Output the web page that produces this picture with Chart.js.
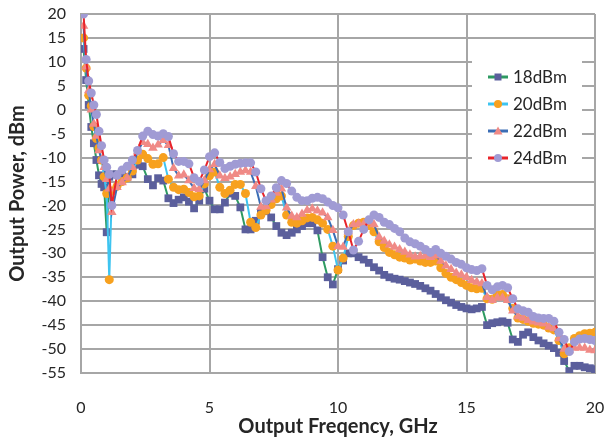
<!DOCTYPE html>
<html>
<head>
<meta charset="utf-8">
<script src="https://cdn.jsdelivr.net/npm/chart.js@4.4.1/dist/chart.umd.min.js"></script>
<style>
    html, body { margin: 0; padding: 0; background: #fff; }
    #chart { display: block; }
</style>
</head>
<body>
<canvas id="chart" width="605" height="441"></canvas>
<script>
// frequency points, GHz
const freq = [0.1, 0.2, 0.3, 0.4, 0.5, 0.6, 0.7, 0.8, 0.9, 1.0, 1.1, 1.2,
    1.4, 1.6, 1.8, 2.0,
    2.2, 2.4, 2.6, 2.8, 3.0,
    3.2, 3.4, 3.6, 3.8, 4.0,
    4.2, 4.4, 4.6, 4.8, 5.0,
    5.2, 5.4, 5.6, 5.8, 6.0,
    6.2, 6.4, 6.6, 6.8, 7.0,
    7.2, 7.4, 7.6, 7.8, 8.0,
    8.2, 8.4, 8.6, 8.8, 9.0,
    9.2, 9.4, 9.6, 9.8, 10.0,
    10.2, 10.4, 10.6, 10.8, 11.0,
    11.2, 11.4, 11.6, 11.8, 12.0,
    12.2, 12.4, 12.6, 12.8, 13.0,
    13.2, 13.4, 13.6, 13.8, 14.0,
    14.2, 14.4, 14.6, 14.8, 15.0,
    15.2, 15.4, 15.6, 15.8, 16.0,
    16.2, 16.4, 16.6, 16.8, 17.0,
    17.2, 17.4, 17.6, 17.8, 18.0,
    18.2, 18.4, 18.6, 18.8, 19.0,
    19.2, 19.4, 19.6, 19.8, 20.0];

const seriesNames = ['18dBm', '20dBm', '22dBm', '24dBm'];

// output power, dBm
const p18 = [12.7, 6.2, 1, -3.6, -7, -10.5, -13.7, -15.5, -16.2, -25.6, -14, -13.5,
    -13.5, -13.4, -14, -13.5,
    -11.5, -11.8, -14.5, -15.8, -14.3,
    -14.8, -18.5, -19.5, -18.8, -18.3,
    -19.2, -20.6, -19, -16.5, -19,
    -20.8, -20.8, -19.4, -17.5, -18,
    -20.4, -25, -25, -23.2, -21.5,
    -21.2, -22.5, -24.3, -25.7, -26.2,
    -25.7, -25, -24.3, -23.7, -23.7,
    -25.2, -30.8, -35, -36.5, -33.3,
    -31.5, -30, -30, -30.8, -31.3,
    -32, -32.9, -33.6, -34.5, -35,
    -35.3, -35.5, -35.8, -36.1, -36.4,
    -36.8, -37.3, -37.8, -38.5, -39.2,
    -39.8, -40.3, -40.8, -41.2, -41.5,
    -41.7, -41.5, -41.2, -45, -44.6,
    -44.4, -44.2, -44.5, -48, -48.5,
    -47, -46.5, -47.5, -48.2, -48.8,
    -49.3, -49.8, -50.8, -52.5, -54.6,
    -53.5, -53.5, -53.8, -54, -54.2];

const p20 = [15, 8.7, 3, 0.8, -3.5, -6, -8, -10.5, -14, -17.5, -35.5, -17,
    -16, -15, -14.2, -12.8,
    -10.5, -9.3, -10.2, -11.4, -11.3,
    -10, -14.5, -16.2, -16.7, -16.6,
    -17.3, -18.2, -18, -15.5, -13.8,
    -13, -16.2, -17.5, -16.8, -15.6,
    -15.6, -17.5, -23.5, -24.6, -22,
    -21, -19.8, -18.6, -18, -22,
    -23.5, -23.7, -23.2, -22.6, -22.5,
    -23, -23.7, -25, -28.5, -33.5,
    -31, -26.5, -24.2, -23.7, -23.5,
    -24.2, -25.5, -27.6, -28.8, -29.8,
    -30.3, -30.8, -31, -31.4, -31.2,
    -31.6, -31.9, -31.9, -31.6, -33,
    -34.2, -35, -35.5, -36.1, -36.7,
    -37.2, -37.4, -37.3, -39.5, -39.6,
    -38.6, -38.6, -39.5, -41.5, -43.5,
    -43.8, -44.2, -44.6, -44.8, -45,
    -45.6, -46, -48.2, -51, -49.7,
    -47.8, -47.2, -46.8, -46.7, -46.5];

const p22 = [17.5, 9, 4, 0, -3, -5.5, -8.5, -10.5, -12, -14.5, -16.5, -21.4,
    -16.2, -15.2, -14.2, -12,
    -8.8, -6.8, -7.2, -8, -7.3,
    -6.4, -7.4, -12.2, -13.8, -13.6,
    -14.8, -16.4, -16.6, -14.8, -12.5,
    -11.4, -13.8, -14.3, -14, -13.5,
    -13, -12.7, -13, -16, -20.3,
    -20.2, -18.8, -17.4, -16.5, -20.5,
    -22.2, -22.5, -21.8, -21, -20.7,
    -21.1, -21.5, -22.5, -25.2, -28.5,
    -28.7, -25.5, -24, -23.8, -23.9,
    -23.5, -24, -26.6, -27.4, -28.2,
    -28.7, -29.2, -29.7, -30.3, -30.7,
    -30.6, -30.5, -30.8, -30.5, -31.6,
    -32.6, -33.3, -34.1, -34.5, -35,
    -35.6, -36, -36.3, -39.2, -39.8,
    -39.3, -39.3, -39.8, -42, -43.2,
    -43.5, -44, -44.3, -44.5, -44.7,
    -45.4, -45.7, -47.8, -50, -50.3,
    -49.8, -49.7, -49.8, -50.2, -50.3];

const p24 = [20, 10.5, 6, 3.5, 1, -1, -4.5, -7.5, -10.5, -12, -13.5, -20,
    -13.7, -12.6, -11.8, -10.5,
    -8.5, -5.5, -4.5, -5.2, -5.5,
    -5, -5.6, -9.2, -10.8, -10.8,
    -11.3, -14.2, -15, -12.6, -9.8,
    -9.0, -11, -12.3, -11.8, -11.4,
    -11.2, -11.1, -11.1, -13, -16.5,
    -19, -18, -16.3, -14.8, -15.4,
    -17, -18.3, -19, -19, -18.5,
    -18.3, -18.6, -19.3, -20, -20.5,
    -22, -25.5, -29.3, -27.5, -25,
    -23, -22, -22.5, -23.5, -24,
    -24.8, -25.5, -26.8, -27.6, -28,
    -28.5, -29.2, -29.8, -29.2, -30,
    -30.6, -31.2, -31.9, -32.3, -33,
    -33.4, -33.6, -33.2, -36.7, -37.6,
    -37, -36.7, -37.2, -39.5, -41.6,
    -42, -42.3, -43.2, -43.5, -43.6,
    -43.6, -44.2, -46.5, -48, -50.5,
    -48.5, -47.9, -47.8, -48, -48.2];

const xy = (vals) => freq.map((f, i) => ({ x: f, y: vals[i] }));

const FONT = 'Lato, "Liberation Sans", sans-serif';
const GRID = '#a6a6a6';

// marker drawn in the inside legend
function drawMarker(ctx, style, x, y, color) {
    ctx.fillStyle = color;
    ctx.beginPath();
    if (style === 'rect') {
        ctx.rect(x - 3.5, y - 3.5, 7, 7);
    } else if (style === 'triangle') {
        ctx.moveTo(x, y - 4.5);
        ctx.lineTo(x + 4.5, y + 3.5);
        ctx.lineTo(x - 4.5, y + 3.5);
        ctx.closePath();
    } else {
        ctx.arc(x, y, 4, 0, Math.PI * 2);
    }
    ctx.fill();
}

const insideLegend = {
    id: 'insideLegend',
    afterDraw(chart) {
        const ctx = chart.ctx;
        const a = chart.chartArea;
        const x0 = a.right - 123;
        const y0 = a.top + 40;
        ctx.save();
        ctx.fillStyle = '#fff';
        ctx.fillRect(x0, y0, 110, 116);
        chart.data.datasets.forEach((ds, i) => {
            const y = a.top + 63 + i * 27;
            ctx.strokeStyle = ds.borderColor;
            ctx.lineWidth = 3;
            ctx.beginPath();
            ctx.moveTo(x0 + 16, y);
            ctx.lineTo(x0 + 36, y);
            ctx.stroke();
            drawMarker(ctx, ds.pointStyle, x0 + 26, y, ds.pointBackgroundColor);
            ctx.fillStyle = '#262626';
            ctx.font = '17px ' + FONT;
            ctx.textBaseline = 'middle';
            ctx.textAlign = 'left';
            ctx.fillText(ds.label, x0 + 41, y + 1);
        });
        ctx.restore();
    }
};

const chart = new Chart(document.querySelector('#chart'), {
    type: 'scatter',
    data: {
        datasets: [
            {
                label: seriesNames[0],
                data: xy(p18),
                showLine: true,
                borderColor: '#2e9a62',
                borderWidth: 2,
                pointStyle: 'rect',
                pointRadius: 5.5,
                pointBackgroundColor: '#5b5f9c',
                pointBorderColor: '#5b5f9c',
                pointBorderWidth: 0,
                order: 4,
            },
            {
                label: seriesNames[1],
                data: xy(p20),
                showLine: true,
                borderColor: '#3ec4f0',
                borderWidth: 2,
                pointStyle: 'circle',
                pointRadius: 4.5,
                pointBackgroundColor: '#f7a11f',
                pointBorderColor: '#f7a11f',
                pointBorderWidth: 0,
                order: 3,
            },
            {
                label: seriesNames[2],
                data: xy(p22),
                showLine: true,
                borderColor: '#3a6db5',
                borderWidth: 2,
                pointStyle: 'triangle',
                pointRadius: 5.5,
                pointBackgroundColor: '#f08a86',
                pointBorderColor: '#f08a86',
                pointBorderWidth: 0,
                order: 2,
            },
            {
                label: seriesNames[3],
                data: xy(p24),
                showLine: true,
                borderColor: '#e8242b',
                borderWidth: 2,
                pointStyle: 'circle',
                pointRadius: 4.5,
                pointBackgroundColor: '#a09bd4',
                pointBorderColor: '#a09bd4',
                pointBorderWidth: 0,
                order: 1,
            }
        ]
    },
    options: {
        responsive: false,
        animation: false,
        layout: {
            padding: { left: 0, top: 14, right: 10, bottom: 0 }
        },
        scales: {
            x: {
                type: 'linear',
                min: 0,
                max: 20,
                afterFit: (s) => { s.height = 68; s.paddingLeft = 0; s.paddingRight = 0; },
                grid: { color: GRID, lineWidth: 2, drawTicks: false },
                border: { color: GRID, width: 2 },
                ticks: {
                    stepSize: 5,
                    padding: 25,
                    color: '#262626',
                    font: { family: FONT, size: 16 }
                },
                title: {
                    display: true,
                    text: 'Output Freqency, GHz',
                    color: '#262626',
                    padding: { top: 0, bottom: 2 },
                    font: { family: FONT, size: 20, weight: 'bold' }
                }
            },
            y: {
                min: -55,
                max: 20,
                afterFit: (s) => { s.width = 81; s.paddingTop = 0; s.paddingBottom = 0; },
                grid: { color: GRID, lineWidth: 2, drawTicks: false },
                border: { color: GRID, width: 2 },
                ticks: {
                    stepSize: 5,
                    padding: 15,
                    color: '#262626',
                    font: { family: FONT, size: 16 }
                },
                title: {
                    display: true,
                    text: 'Output Power, dBm',
                    color: '#262626',
                    padding: { top: 6, bottom: 0 },
                    font: { family: FONT, size: 20, weight: 'bold' }
                }
            }
        },
        plugins: {
            legend: { display: false },
            tooltip: { enabled: false }
        }
    },
    plugins: [insideLegend]
});
</script>
</body>
</html>
